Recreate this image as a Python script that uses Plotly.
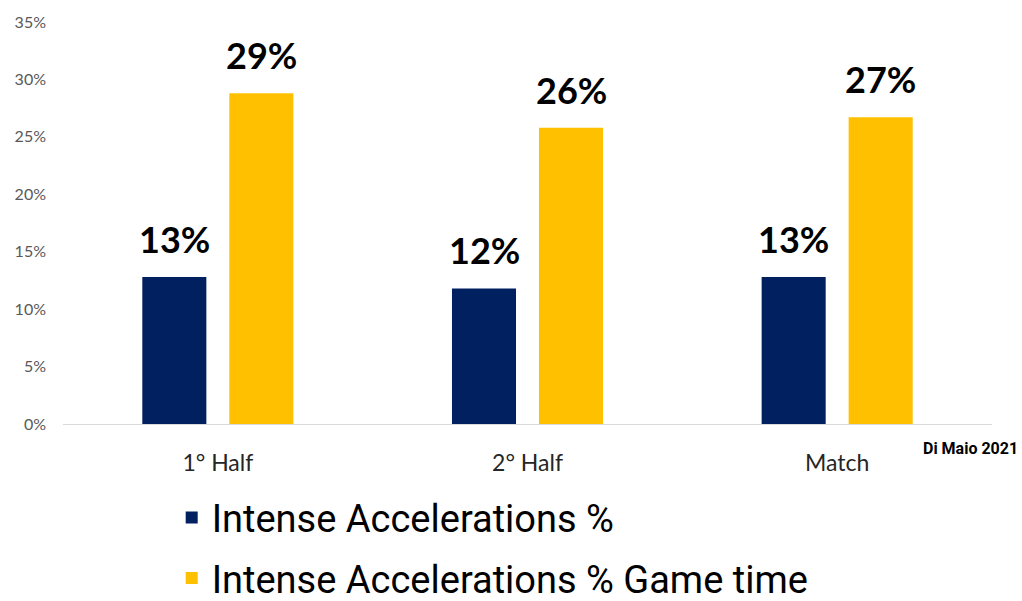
import plotly.graph_objects as go

# Share of intense accelerations per match period
categories = ["1° Half", "2° Half", "Match"]
accel_pct = [12.8, 11.8, 12.8]
accel_game_time_pct = [28.8, 25.8, 26.7]
series_names = ["Intense Accelerations %", "Intense Accelerations % Game time"]
y_ticks = [0, 5, 10, 15, 20, 25, 30, 35]
y_tick_labels = [f"{t}%" for t in y_ticks]

NAVY = "#002060"
GOLD = "#FFC000"

fig = go.Figure()
for name, vals, color, grp in [
    (series_names[0], accel_pct, NAVY, "a"),
    (series_names[1], accel_game_time_pct, GOLD, "b"),
]:
    fig.add_trace(go.Bar(
        x=categories, y=vals, name=name, legendgroup=grp,
        marker=dict(color=color, line=dict(width=0)),
        hoverinfo="skip",
    ))

# Value labels above each bar, offset to the bar's slot in the group
for vals, shift in [(accel_pct, -43.5), (accel_game_time_pct, 43.5)]:
    for cat, v in zip(categories, vals):
        fig.add_annotation(
            x=cat, y=v, xref="x", yref="y", text=f"{v:.0f}%",
            showarrow=False, xshift=shift, yanchor="bottom", yshift=14,
            font=dict(family="Lato", size=36, color="#000000", weight="bold"),
        )

fig.add_annotation(
    x=1.03, y=-0.06, xref="paper", yref="paper", text="Di Maio 2021",
    showarrow=False, xanchor="right", yanchor="middle",
    font=dict(family="Roboto", size=16, color="#000000", weight="bold"),
)

fig.update_layout(
    width=1022, height=601,
    margin=dict(l=63, r=30, t=22, b=177, autoexpand=False),
    paper_bgcolor="white", plot_bgcolor="white",
    barmode="group", bargap=0.438, bargroupgap=0.264,
    showlegend=True,
    legend=dict(
        orientation="v", x=0.117, xanchor="left", y=-0.155, yanchor="top",
        font=dict(family="Roboto", size=38, color="#000000"),
        tracegroupgap=8, bgcolor="rgba(0,0,0,0)",
    ),
    xaxis=dict(
        showline=True, linecolor="#D9D9D9", linewidth=1,
        showgrid=False, ticks="", ticklabelstandoff=18,
        tickfont=dict(family="Lato", size=23, color="#262626"),
    ),
    yaxis=dict(
        range=[0, 35], tickvals=y_ticks, ticktext=y_tick_labels,
        showgrid=False, zeroline=False, showline=False, ticks="",
        ticklabelstandoff=16,
        tickfont=dict(family="Lato", size=16, color="#595959"),
    ),
)

fig.write_html("out.html")
